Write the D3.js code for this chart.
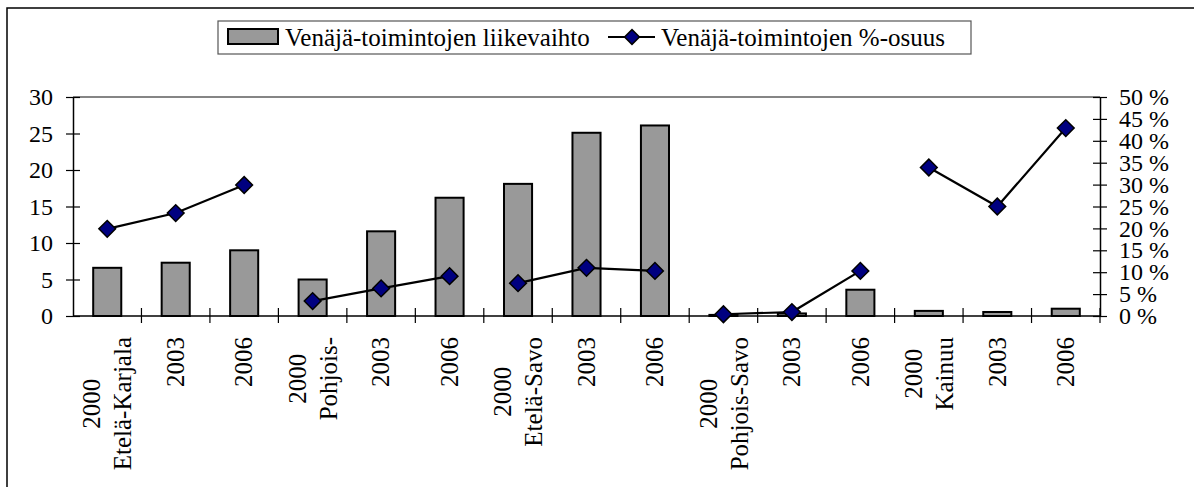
<!DOCTYPE html>
<html>
<head>
<meta charset="utf-8">
<script src="https://cdn.jsdelivr.net/npm/d3@7"></script>
<style>
  body { margin: 0; background: #fff; }
  text { font-family: "Liberation Serif", "Times New Roman", serif; fill: #000; }
</style>
</head>
<body>
<div id="chart"></div>
<script>
// data
const regions = ["Etelä-Karjala", "Pohjois-", "Etelä-Savo", "Pohjois-Savo", "Kainuu"];
const years = ["2000", "2003", "2006"];
const turnover = [6.6, 7.3, 9.0, 5.0, 11.6, 16.2, 18.1, 25.1, 26.1, 0.15, 0.35, 3.6, 0.7, 0.55, 1.0];
const share = [19.9, 23.5, 29.9, 3.4, 6.3, 9.1, 7.5, 11.0, 10.3, 0.4, 0.9, 10.3, 33.9, 25.0, 42.9];
const leftTicks = [0, 5, 10, 15, 20, 25, 30];
const rightTicks = [0, 5, 10, 15, 20, 25, 30, 35, 40, 45, 50];
const legendLabels = ["Venäjä-toimintojen liikevaihto", "Venäjä-toimintojen %-osuus"];

const W = 1194, H = 487;
const plot = { left: 73, right: 1100, top: 97, bottom: 316 };
const tickFont = 24, catFont = 25, legendFont = 25;

// one row per bar: region, year, values
const rows = [];
regions.forEach((r, ri) => years.forEach((y, yi) => {
    const i = ri * 3 + yi;
    rows.push({ i, region: r, ri, year: y, value: turnover[i], pct: share[i],
        label: yi === 0 ? [y, r] : [y] });
}));

const svg = d3.select("#chart").append("svg")
    .attr("width", W).attr("height", H);

// outer chart frame (only top and left show in the picture)
svg.append("rect")
    .attr("x", 7).attr("y", 8)
    .attr("width", W + 20).attr("height", H + 20)
    .attr("fill", "none").attr("stroke", "#000").attr("stroke-width", 1.5);

const ids = rows.map(d => d.i);
const xCat = d3.scaleBand().domain(ids).range([plot.left, plot.right]);
const xBar = d3.scaleBand().domain(ids).range([plot.left, plot.right])
    .paddingInner(0.59).paddingOuter(0.295);
const yL = d3.scaleLinear().domain([0, 30]).range([plot.bottom, plot.top]);
const yR = d3.scaleLinear().domain([0, 50]).range([plot.bottom, plot.top]);

// gray top border of the plot area
svg.append("line")
    .attr("x1", plot.left).attr("x2", plot.right)
    .attr("y1", yL(30)).attr("y2", yL(30))
    .attr("stroke", "#858585").attr("stroke-width", 2);

// bars
svg.append("g").selectAll("rect")
    .data(rows)
    .join("rect")
    .attr("x", d => xBar(d.i))
    .attr("y", d => yL(d.value))
    .attr("width", xBar.bandwidth())
    .attr("height", d => yL(0) - yL(d.value))
    .attr("fill", "#999999")
    .attr("stroke", "#000").attr("stroke-width", 2);

// left axis
const axL = svg.append("g")
    .attr("transform", `translate(${plot.left},0)`)
    .call(d3.axisLeft(yL).tickValues(leftTicks).tickSizeInner(7).tickSizeOuter(0).tickPadding(13));
axL.select(".domain").attr("stroke", "#000").attr("stroke-width", 1.5);
axL.selectAll(".tick line").attr("x1", 7).attr("stroke-width", 1.2);
axL.selectAll(".tick text").style("font-size", tickFont + "px")
    .style("font-family", "'Liberation Serif', serif");

// right axis
const axR = svg.append("g")
    .attr("transform", `translate(${plot.right},0)`)
    .call(d3.axisRight(yR).tickValues(rightTicks).tickFormat(d => d + " %")
        .tickSizeInner(7).tickSizeOuter(0).tickPadding(12));
axR.select(".domain").attr("stroke", "#000").attr("stroke-width", 1.5);
axR.selectAll(".tick line").attr("x1", -7).attr("stroke-width", 1.2);
axR.selectAll(".tick text").style("font-size", tickFont + "px")
    .style("font-family", "'Liberation Serif', serif");

// category axis
const axB = svg.append("g");
axB.append("line")
    .attr("x1", plot.left).attr("x2", plot.right)
    .attr("y1", yL(0)).attr("y2", yL(0))
    .attr("stroke", "#000").attr("stroke-width", 1.5);
axB.selectAll("line.tk")
    .data(ids.slice(1).concat([ids.length]))
    .join("line").attr("class", "tk")
    .attr("x1", d => d < ids.length ? xCat(d) : plot.right)
    .attr("x2", d => d < ids.length ? xCat(d) : plot.right)
    .attr("y1", yL(0) - 8).attr("y2", yL(0) + 7)
    .attr("stroke", "#000").attr("stroke-width", 1.2);

// rotated, centred multi-line labels
const labelTop = 337;
const labelG = axB.selectAll("g.lbl").data(rows).join("g").attr("class", "lbl");
labelG.each(function (d) {
    const g = d3.select(this);
    const cx = xCat(d.i) + xCat.bandwidth() / 2;
    const n = d.label.length;
    const texts = d.label.map((t, k) => g.append("text")
        .attr("font-size", catFont)
        .attr("text-anchor", "middle")
        .attr("dy", "0.33em")
        .text(t));
    const maxLen = d3.max(texts, t => t.node().getComputedTextLength());
    texts.forEach((t, k) => {
        const off = n === 1 ? 0 : (k === 0 ? -15 : 16);
        const px = cx + off, py = labelTop + maxLen / 2;
        t.attr("transform", `translate(${px},${py}) rotate(-90)`);
    });
});

// share line, one segment per region
const line = d3.line()
    .x(d => xCat(d.i) + xCat.bandwidth() / 2)
    .y(d => yR(d.pct));
svg.append("g").selectAll("path")
    .data(d3.groups(rows, d => d.ri).map(g => g[1]))
    .join("path")
    .attr("d", line)
    .attr("fill", "none").attr("stroke", "#000").attr("stroke-width", 2.2);

svg.append("g").selectAll("path")
    .data(rows)
    .join("path")
    .attr("transform", d => `translate(${xCat(d.i) + xCat.bandwidth() / 2},${yR(d.pct)}) rotate(45)`)
    .attr("d", d3.symbol().type(d3.symbolSquare).size(140))
    .attr("fill", "#000080").attr("stroke", "#000").attr("stroke-width", 1.5);

// legend
const leg = svg.append("g");
leg.append("rect")
    .attr("x", 218).attr("y", 21).attr("width", 753).attr("height", 33)
    .attr("fill", "#fff").attr("stroke", "#555").attr("stroke-width", 1.2);
leg.append("rect")
    .attr("x", 228).attr("y", 29).attr("width", 50).attr("height", 15)
    .attr("fill", "#999999").attr("stroke", "#000").attr("stroke-width", 2);
leg.append("text")
    .attr("x", 285).attr("y", 46).attr("font-size", legendFont)
    .text(legendLabels[0]);
leg.append("line")
    .attr("x1", 608).attr("x2", 655).attr("y1", 37).attr("y2", 37)
    .attr("stroke", "#000").attr("stroke-width", 2.2);
leg.append("path")
    .attr("transform", "translate(632,37) rotate(45)")
    .attr("d", d3.symbol().type(d3.symbolSquare).size(110))
    .attr("fill", "#000080").attr("stroke", "#000").attr("stroke-width", 1.5);
leg.append("text")
    .attr("x", 661).attr("y", 46).attr("font-size", legendFont)
    .text(legendLabels[1]);
</script>
</body>
</html>
